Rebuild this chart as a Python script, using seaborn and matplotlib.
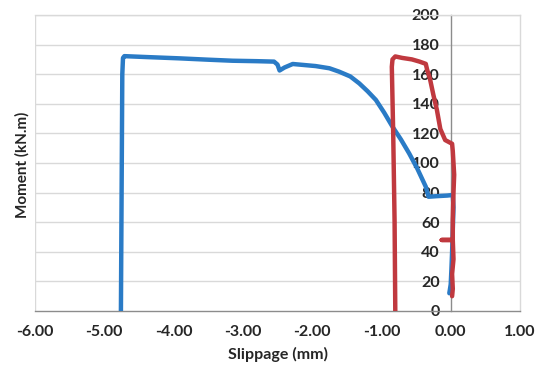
import matplotlib
matplotlib.use("Agg")
import matplotlib.pyplot as plt
import seaborn as sns
import pandas as pd

# Blue specimen
blue_x = [-4.76, -4.75, -4.74, -4.73, -4.71, -4.40, -3.91, -3.50, -3.15, -2.80, -2.55, -2.50,
          -2.47, -2.40, -2.28, -1.95, -1.75, -1.61, -1.45, -1.32, -1.20, -1.08, -0.96, -0.84,
          -0.72, -0.60, -0.48, -0.36, -0.32, -0.20, -0.05, 0.03, 0.04, 0.03, 0.02, 0.01, 0.00, -0.02]
blue_y = [0, 80, 160, 171, 172.2, 171.6, 170.7, 169.8, 169.1, 168.8, 168.5, 166.5,
          162.5, 164.5, 166.9, 165.5, 164.0, 161.7, 158.5, 153.8, 148.5, 142.6, 134.0, 124.5,
          116.0, 106.5, 96.0, 84.0, 77.2, 77.6, 78.0, 78.4, 70, 55, 40, 28, 18, 12]

# Red specimen
red_x = [-0.80, -0.81, -0.83, -0.85, -0.84, -0.80, -0.70, -0.56, -0.45, -0.36, -0.34, -0.30,
         -0.25, -0.20, -0.15, -0.08, -0.02, 0.02, 0.03, 0.05, 0.04, 0.03, 0.03, -0.13, 0.03,
         0.04, 0.02, 0.03, 0.02]
red_y = [0, 60, 120, 165, 170, 172, 171, 170, 168.5, 167, 163, 157,
         146, 136, 123, 115.5, 114, 113, 108, 92, 80, 62, 48, 48, 48,
         35, 25, 15, 10]

x_ticks = [-6, -5, -4, -3, -2, -1, 0, 1]
y_ticks = [0, 20, 40, 60, 80, 100, 120, 140, 160, 180, 200]

df_blue = pd.DataFrame({"Slippage": blue_x, "Moment": blue_y})
df_red = pd.DataFrame({"Slippage": red_x, "Moment": red_y})

sns.set_style("white")
plt.rcParams['font.family'] = ['Lato', 'DejaVu Sans']

fig = plt.figure(figsize=(5.4, 3.74), dpi=100)
ax = fig.add_axes([35/540, 1-311/374, (520-35)/540, (311-15)/374])

grid_c = "#d9d9d9"
for y in y_ticks[1:]:
    ax.axhline(y, color=grid_c, lw=1.0, zorder=0)
ax.axvline(-6, color=grid_c, lw=1.0, zorder=0)

sns.lineplot(data=df_blue, x="Slippage", y="Moment", sort=False, estimator=None,
             color="#2a7bc6", lw=3.2, ax=ax, zorder=3)
sns.lineplot(data=df_red, x="Slippage", y="Moment", sort=False, estimator=None,
             color="#c0393f", lw=3.2, ax=ax, zorder=4)

ax.set_xlim(-6, 1)
ax.set_ylim(0, 200)
ax.set_xticks(x_ticks)
ax.set_xticklabels([f"{v:.2f}" for v in x_ticks])
ax.set_yticks(y_ticks)
ax.set_yticklabels([str(v) for v in y_ticks])

ax.spines['left'].set_position(('data', 0))
ax.spines['left'].set_color("#8c8c8c")
ax.spines['bottom'].set_color("#8c8c8c")
ax.spines['top'].set_color(grid_c)
ax.spines['right'].set_color(grid_c)
for s in ax.spines.values():
    s.set_linewidth(1.0)
ax.spines['left'].set_zorder(2)

ax.tick_params(axis='y', direction='out', length=6, width=1, color="#8c8c8c",
               labelsize=11.5, pad=2, labelcolor="#262626")
ax.tick_params(axis='x', direction='out', length=5, width=1, color="#8c8c8c",
               labelsize=11.5, pad=5, labelcolor="#262626")
for lab in ax.get_xticklabels() + ax.get_yticklabels():
    lab.set_fontweight('bold')

ax.set_xlabel("Slippage (mm)", fontsize=11.5, fontweight='bold', color="#262626", labelpad=6)
ax.set_ylabel("")
fig.text(22/540, 1-165/374, "Moment (kN.m)", rotation=90, ha='center', va='center',
         fontsize=11, fontweight='bold', color="#262626")

fig.savefig("out.png", dpi=100)
